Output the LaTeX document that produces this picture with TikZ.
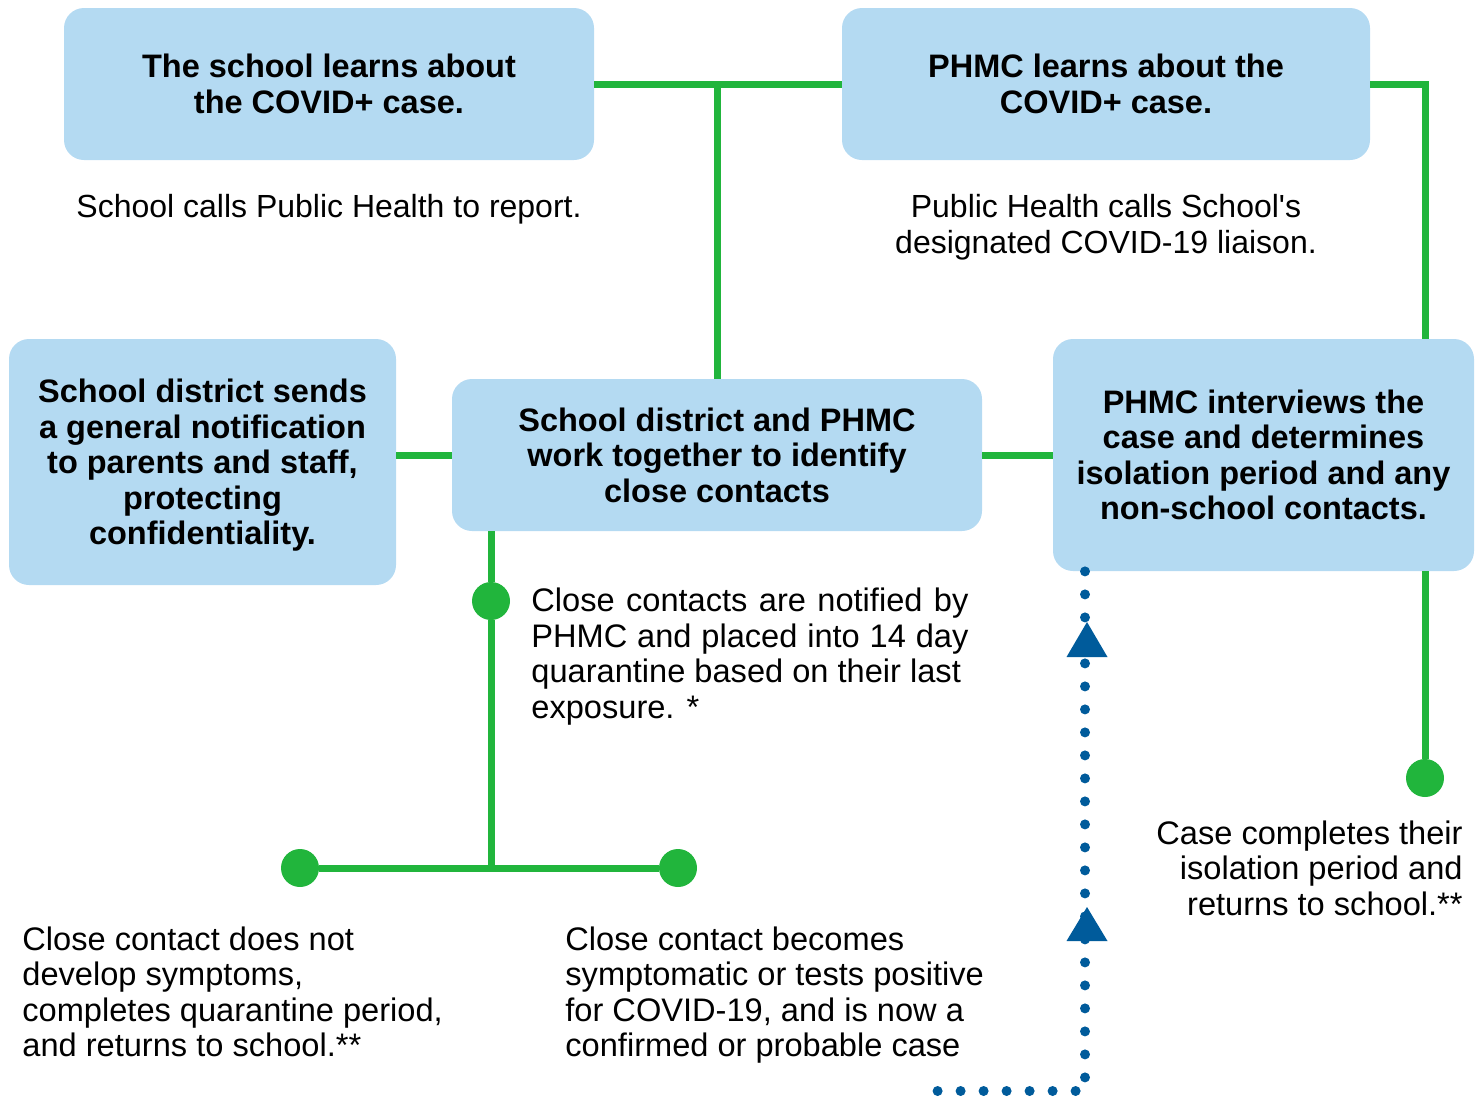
\documentclass[tikz,border=0pt]{standalone}
\usepackage{fontspec}
\setmainfont{Liberation Sans}[Ligatures=TeXOff]
\definecolor{boxblue}{HTML}{B4DAF2}
\definecolor{lgreen}{HTML}{21B53C}
\definecolor{dblue}{HTML}{005B9B}
\begin{document}
\begin{tikzpicture}[x=0.5pt,y=-0.5pt,
  box/.style={fill=boxblue, rounded corners=10pt, align=center, inner sep=0pt,
    font=\fontsize{16.25}{17.7}\selectfont\bfseries},
  txt/.style={inner sep=0pt, font=\fontsize{16.3}{17.7}\selectfont},
  toptxt/.style={inner sep=0pt, font=\fontsize{16}{18}\selectfont},
  gline/.style={draw=lgreen, line width=3.5pt},
  gdot/.style={circle, fill=lgreen, minimum size=19pt, inner sep=0pt},
  bdots/.style={draw=dblue, line width=5pt, line cap=round, dash pattern=on 0pt off 11.5pt},
  arrowtri/.style={fill=dblue}]
\useasboundingbox (0,0) rectangle (1484,1099);

% boxes
\node[box, minimum width=265pt, minimum height=76pt] (b1) at (329,84) {The school learns about\\the COVID+ case.};
\node[box, minimum width=264pt, minimum height=76pt] (b2) at (1106,84) {PHMC learns about the\\COVID+ case.};
\node[box, minimum width=193.5pt, minimum height=123pt, text depth=0pt] (lbox) at (202.5,462) {School district sends\\a general notification\\to parents and staff,\\protecting\\confidentiality.};
\node[box, minimum width=265pt, minimum height=76pt] (mid) at (717,455) {School district and PHMC\\work together to identify\\close contacts};
\node[box, minimum width=210.5pt, minimum height=116pt] (rbox) at (1263.5,455) {PHMC interviews the\\case and determines\\isolation period and any\\non-school contacts.};

% texts
\node[toptxt] (t1) at (329,209) {School calls Public Health to report.};
\node[toptxt, align=center] (t2) at (1106,227.5) {Public Health calls School's\\designated COVID-19 liaison.};
\node[txt, align=left, anchor=west] (t3) at (531,656.5) {\makebox[218.5pt][s]{Close contacts are notified by}\\\makebox[218.5pt][s]{PHMC and placed into 14 day}\\quarantine based on their last\\exposure. *};
\node[txt, align=right, anchor=east] (t4) at (1463,868) {Case completes their\\isolation period and\\returns to school.**};
\node[txt, align=left, anchor=west] (t5) at (22,992) {Close contact does not\\develop symptoms,\\completes quarantine period,\\and returns to school.**};
\node[txt, align=left, anchor=west] (t6) at (565,995) {Close contact becomes\\symptomatic or tests positive\\for COVID-19, and is now a\\confirmed or probable case};

% dots
\node[gdot] (d1) at (491,601) {};
\node[gdot] (dl) at (300,868) {};
\node[gdot] (dr) at (678,868) {};
\node[gdot] (dc) at (1425,778) {};

% coordinates
\coordinate (rj) at (1425,84);
\coordinate (vj) at (491,868);
\coordinate (bc) at (1085,1091);
\coordinate (bs) at (920,1091);

% green connectors
\draw[gline] (b1.east) -- (b2.west);
\draw[gline] (mid.north) -- (mid.north |- b1.east);
\draw[gline] (b2.east) -- (rj) -- (rj |- rbox.north);
\draw[gline] (rj |- rbox.south) -- (dc);
\draw[gline] (lbox.east |- mid.west) -- (mid.west);
\draw[gline] (mid.east) -- (mid.east -| rbox.west);
\draw[gline] (mid.south -| vj) -- (d1) -- (vj);
\draw[gline] (dl) -- (dr);

% blue dotted connector
\draw[bdots] (rbox.south -| bc) -- (bc) -- (bs);
\fill[arrowtri] (1087,622) -- (1107.5,657) -- (1066.5,657) -- cycle;
\fill[arrowtri] (1087,907) -- (1107.5,941) -- (1066.5,941) -- cycle;
\end{tikzpicture}
\end{document}
